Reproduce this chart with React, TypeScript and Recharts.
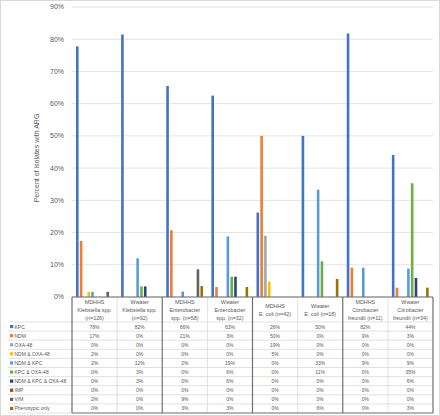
import { Bar, BarChart, CartesianGrid, XAxis, YAxis } from "recharts";

const FONT = '"Liberation Sans", Arial, sans-serif';

// columns of the chart / data table
const categories = ["mdhhsKleb", "wwKleb", "mdhhsEnt", "wwEnt", "mdhhsEcoli", "wwEcoli", "mdhhsCitro", "wwCitro"];
const headerLines = [
  ["MDHHS", "Klebsiella spp.", "(n=126)"],
  ["Wwater", "Klebsiella spp.", "(n=92)"],
  ["MDHHS", "Enterobacter", "spp. (n=58)"],
  ["Wwater", "Enterobacter", "spp. (n=32)"],
  ["MDHHS", "E. coli (n=42)"],
  ["Wwater", "E. coli (n=18)"],
  ["MDHHS", "Citrobacter", "freundii (n=11)"],
  ["Wwater", "Citrobacter", "freundii (n=34)"],
];

// percent of isolates per mechanism
const kpc = [77.8, 81.5, 65.5, 62.5, 26.2, 50.0, 81.8, 44.1];
const ndm = [17.4, 0, 20.7, 3.1, 50.0, 0, 9.1, 2.9];
const oxa48 = [0, 0, 0, 0, 19.0, 0, 0, 0];
const ndmOxa48 = [1.6, 0, 0, 0, 4.8, 0, 0, 0];
const ndmKpc = [1.6, 12.0, 1.7, 18.8, 0, 33.3, 9.1, 8.8];
const kpcOxa48 = [0, 3.3, 0, 6.3, 0, 11.1, 0, 35.3];
const ndmKpcOxa48 = [0, 3.3, 0, 6.3, 0, 0, 0, 5.9];
const imp = [0, 0, 0, 0, 0, 0, 0, 0];
const vim = [1.6, 0, 8.6, 0, 0, 0, 0, 0];
const phenotypic = [0, 0, 3.4, 3.1, 0, 5.6, 0, 2.9];

const yTicks = [0, 10, 20, 30, 40, 50, 60, 70, 80, 90];

const series = [
  { key: "kpc", label: "KPC", color: "#4472C4", values: kpc },
  { key: "ndm", label: "NDM", color: "#ED7D31", values: ndm },
  { key: "oxa48", label: "OXA-48", color: "#A5A5A5", values: oxa48 },
  { key: "ndmOxa48", label: "NDM & OXA-48", color: "#FFC000", values: ndmOxa48 },
  { key: "ndmKpc", label: "NDM & KPC", color: "#5B9BD5", values: ndmKpc },
  { key: "kpcOxa48", label: "KPC & OXA-48", color: "#70AD47", values: kpcOxa48 },
  { key: "ndmKpcOxa48", label: "NDM & KPC & OXA-48", color: "#264478", values: ndmKpcOxa48 },
  { key: "imp", label: "IMP", color: "#9E480E", values: imp },
  { key: "vim", label: "VIM", color: "#636363", values: vim },
  { key: "phenotypic", label: "Phenotypic only", color: "#997300", values: phenotypic },
];

const data = categories.map((cat, i) => {
  const row: Record<string, number | string> = { cat };
  series.forEach((s) => (row[s.key] = s.values[i]));
  return row;
});

// layout
const W = 440;
const H = 416;
const PLOT_L = 72;
const PLOT_R = 433;
const PLOT_T = 7;
const PLOT_B = 297;
const COL_W = (PLOT_R - PLOT_L) / categories.length;
const HEAD_H = 25;
const ROW_H = 9.1;
const TABLE_B = PLOT_B + HEAD_H + ROW_H * series.length;
const textColor = "#595959";

function DataTable() {
  const rowsTop = PLOT_B + HEAD_H;
  return (
    <svg width={W} height={H} style={{ position: "absolute", left: 0, top: 0, pointerEvents: "none" }}>
      {/* y axis title */}
      <text
        x={0}
        y={0}
        transform={`translate(36 158) rotate(-90)`}
        textAnchor="middle"
        dominantBaseline="central"
        fontSize={7}
        fontFamily={FONT}
        fill={textColor}
      >
        Percent of isolates with ARG
      </text>

      {/* row lines */}
      {series.map((s, i) => (
        <line key={s.key} x1={8} x2={PLOT_R} y1={rowsTop + i * ROW_H} y2={rowsTop + i * ROW_H} stroke="#d9d9d9" strokeWidth={0.8} />
      ))}
      <line x1={8} x2={PLOT_L} y1={TABLE_B} y2={TABLE_B} stroke="#d9d9d9" strokeWidth={0.8} />

      {/* light separators inside each group */}
      {[0, 1, 2, 3].map((g) => {
        const x = PLOT_L + (2 * g + 1) * COL_W;
        return <line key={g} x1={x} x2={x} y1={PLOT_B} y2={TABLE_B} stroke="#d9d9d9" strokeWidth={0.8} />;
      })}

      {/* dark group boxes */}
      {[0, 1, 2, 3, 4].map((g) => {
        const x = PLOT_L + 2 * g * COL_W;
        return <line key={g} x1={x} x2={x} y1={PLOT_B} y2={TABLE_B} stroke="#6f6f6f" strokeWidth={1.2} />;
      })}
      <line x1={PLOT_L} x2={PLOT_R} y1={PLOT_B} y2={PLOT_B} stroke="#6f6f6f" strokeWidth={1.2} />
      <line x1={PLOT_L} x2={PLOT_R} y1={TABLE_B} y2={TABLE_B} stroke="#6f6f6f" strokeWidth={1.2} />

      {/* header cells */}
      {headerLines.map((lines, c) => {
        const cx = PLOT_L + (c + 0.5) * COL_W;
        const cy = PLOT_B + HEAD_H / 2;
        const lh = 8;
        return (
          <text key={c} textAnchor="middle" fontSize={5.4} fontFamily={FONT} fill={textColor}>
            {lines.map((t, k) => (
              <tspan key={k} x={cx} y={cy + (k - (lines.length - 1) / 2) * lh} dominantBaseline="central">
                {t}
              </tspan>
            ))}
          </text>
        );
      })}

      {/* legend keys, labels and values */}
      {series.map((s, i) => {
        const cy = rowsTop + (i + 0.5) * ROW_H;
        return (
          <g key={s.key}>
            <rect x={10} y={cy - 1.6} width={3.2} height={3.2} fill={s.color} />
            <text x={14.5} y={cy} dominantBaseline="central" fontSize={5} fontFamily={FONT} fill={textColor}>
              {s.label}
            </text>
            {s.values.map((v, c) => (
              <text
                key={c}
                x={PLOT_L + (c + 0.5) * COL_W}
                y={cy}
                textAnchor="middle"
                dominantBaseline="central"
                fontSize={5}
                fontFamily={FONT}
                fill={textColor}
              >
                {`${Math.round(v)}%`}
              </text>
            ))}
          </g>
        );
      })}
    </svg>
  );
}

export default function App() {
  return (
    <div
      style={{
        position: "absolute",
        left: 0,
        top: 0,
        width: W,
        height: H,
        background: "#fff",
        boxSizing: "border-box",
        border: "1px solid #d9d9d9",
      }}
    >
      <div style={{ position: "absolute", left: -1, top: -1 }}>
        <BarChart
          width={W}
          height={H}
          data={data}
          margin={{ top: PLOT_T, right: W - PLOT_R, bottom: H - PLOT_B, left: 0 }}
          barSize={2.6}
          barGap={1.2}
          barCategoryGap={0}
        >
          <CartesianGrid vertical={false} stroke="#e3e3e3" />
          <XAxis dataKey="cat" hide />
          <YAxis
            width={PLOT_L}
            domain={[0, 90]}
            ticks={yTicks}
            tickFormatter={(v) => `${v}%`}
            axisLine={false}
            tickLine={false}
            tick={{ fontSize: 7, fill: textColor, fontFamily: FONT }}
          />
          {series.map((s) => (
            <Bar key={s.key} dataKey={s.key} name={s.label} fill={s.color} isAnimationActive={false} />
          ))}
        </BarChart>
      </div>
      <div style={{ position: "absolute", left: -1, top: -1 }}>
        <DataTable />
      </div>
    </div>
  );
}
